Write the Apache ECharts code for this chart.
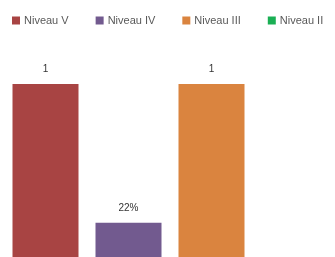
<!DOCTYPE html>
<html>
<head>
<meta charset="utf-8">
<script src="https://cdn.jsdelivr.net/npm/echarts@6/dist/echarts.min.js"></script>
<style>
  html, body { margin: 0; padding: 0; background: #fff; }
  #chart { width: 335px; height: 257px; }
</style>
</head>
<body>
<div id="chart"></div>
<script>
const categories = ['Niveau V', 'Niveau IV', 'Niveau III', 'Niveau II'];
const values = [1, 0.22, 1, 0];
const valueLabels = ['1', '22%', '1', ''];
const colors = ['#A84443', '#725A8F', '#DA843F', '#1AAF54'];

const chart = echarts.init(document.getElementById('chart'));

// one series per level so the legend shows each colour
const series = categories.map((name, i) => ({
    name: name,
    type: 'bar',
    stack: 'total',
    barWidth: 66,
    itemStyle: { color: colors[i] },
    label: {
        show: values[i] > 0,
        position: 'top',
        distance: 10,
        color: '#333',
        fontFamily: 'Liberation Sans',
        fontSize: 10,
        formatter: () => valueLabels[i]
    },
    data: categories.map((c, j) => (j === i ? values[i] : '-'))
}));

const option = {
    animation: false,
    backgroundColor: '#fff',
    legend: {
        data: categories,
        left: 7,
        top: 10,
        itemWidth: 8,
        itemHeight: 8,
        itemGap: 27,
        icon: 'rect',
        textStyle: { color: '#595959', fontFamily: 'Liberation Sans', fontSize: 11, padding: [0, 0, 0, -1] }
    },
    // baseline sits a little below the visible area
    grid: { left: 4, top: 84, width: 332, height: 178, outerBoundsMode: 'none' },
    xAxis: {
        type: 'category',
        data: categories,
        show: false
    },
    yAxis: {
        type: 'value',
        min: 0,
        max: 1,
        show: false
    },
    series: series
};

chart.setOption(option);
</script>
</body>
</html>
